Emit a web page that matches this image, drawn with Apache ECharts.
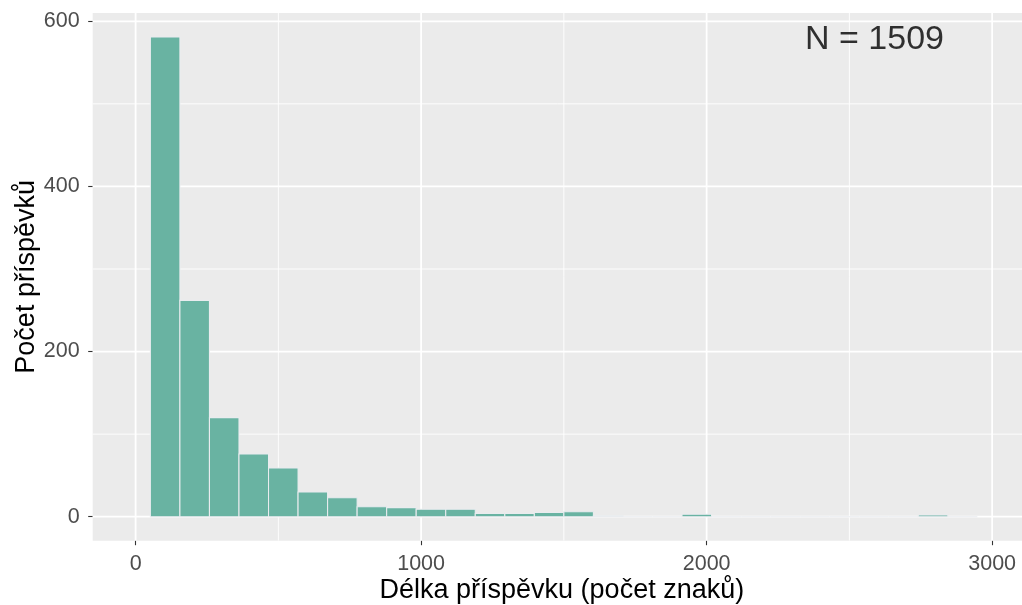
<!DOCTYPE html>
<html>
<head>
<meta charset="utf-8">
<script src="https://cdn.jsdelivr.net/npm/echarts@6/dist/echarts.min.js"></script>
<style>
  html, body { margin: 0; padding: 0; background: #ffffff; }
  #chart { width: 1022px; height: 605px; }
</style>
</head>
<body>
<div id="chart"></div>
<script>
// ---- data ----
const xLimits = [0, 3000];
const binCount = 29;                       // bins spanning the x limits (ggplot bins over limits)
const binWidth = (xLimits[1] - xLimits[0]) / binCount;
// counts of the visible bars, bins centred at 1..28 * binWidth
const counts = [581, 262, 120, 76, 59, 30, 23, 12, 11, 9, 9, 4, 4, 5, 6, 1, 0, 0, 3, 0, 0, 0, 0, 0, 0, 0, 2, 0];
const xTickValues = [0, 1000, 2000, 3000];
const xMinorValues = [500, 1500, 2500];
const yTickValues = [0, 200, 400, 600];
const yMinorValues = [100, 300, 500];
const annotationText = 'N = 1509';
const annotationPos = [2588, 578];
const xTitle = 'Délka příspěvku (počet znaků)';
const yTitle = 'Počet příspěvků';
// visible x extent of the panel (picture is cropped at the right)
const xRange = [-150.3, 3104.6];

// ---- derived ----
const yMaxData = Math.max.apply(null, counts);
const yRange = [-0.05 * yMaxData, yMaxData * 1.05];

const barData = counts.map((c, i) => {
  const center = (i + 1) * binWidth;
  return [center - binWidth / 2, center + binWidth / 2, c];
});

const gridLines = []
  .concat(xMinorValues.map(v => ['x', v, 0.9]))
  .concat(yMinorValues.map(v => ['y', v, 0.9]))
  .concat(xTickValues.map(v => ['x', v, 1.8]))
  .concat(yTickValues.map(v => ['y', v, 1.8]));

const FONT = '"Liberation Sans", Arial, sans-serif';
const chart = echarts.init(document.getElementById('chart'), null, { renderer: 'canvas' });

chart.setOption({
  animation: false,
  backgroundColor: '#ffffff',
  grid: {
    left: 92.7, top: 13, right: 0, height: 527.7,
    show: true, backgroundColor: '#EBEBEB', borderWidth: 0,
    containLabel: false,
    outerBoundsMode: 'none'
  },
  xAxis: {
    type: 'value',
    min: xRange[0], max: xRange[1],
    name: xTitle,
    nameLocation: 'middle',
    nameGap: 36,
    nameMoveOverlap: false,
    nameTextStyle: { fontFamily: FONT, fontSize: 27, color: '#000000', padding: [0, 0, 0, 9] },
    axisLine: { show: false, onZero: false },
    axisTick: { show: true, customValues: xTickValues, length: 4.5, lineStyle: { color: '#333333', width: 1.1 } },
    axisLabel: { show: true, customValues: xTickValues, margin: 12, fontFamily: FONT, fontSize: 21.5, color: '#4D4D4D',
                 formatter: v => String(v) },
    splitLine: { show: false }
  },
  yAxis: {
    type: 'value',
    min: yRange[0], max: yRange[1],
    name: yTitle,
    nameLocation: 'middle',
    nameRotate: 90,
    nameGap: 53,
    nameMoveOverlap: false,
    nameTextStyle: { fontFamily: FONT, fontSize: 27, color: '#000000' },
    axisLine: { show: false, onZero: false },
    axisTick: { show: true, customValues: yTickValues, length: 4.5, lineStyle: { color: '#333333', width: 1.1 } },
    axisLabel: { show: true, customValues: yTickValues, margin: 13, fontFamily: FONT, fontSize: 21.5, color: '#4D4D4D',
                 formatter: v => String(v) },
    splitLine: { show: false }
  },
  series: [
    {
      type: 'custom',
      name: 'grid',
      silent: true,
      z: 1,
      clip: true,
      data: gridLines,
      renderItem: function (params, api) {
        const dir = gridLines[params.dataIndex][0];
        const v = gridLines[params.dataIndex][1];
        const w = gridLines[params.dataIndex][2];
        let p1, p2;
        if (dir === 'x') { p1 = api.coord([v, yRange[0]]); p2 = api.coord([v, yRange[1]]); }
        else { p1 = api.coord([xRange[0], v]); p2 = api.coord([xRange[1], v]); }
        return {
          type: 'line',
          shape: { x1: p1[0], y1: p1[1], x2: p2[0], y2: p2[1] },
          style: { stroke: '#FFFFFF', lineWidth: w }
        };
      }
    },
    {
      type: 'custom',
      name: 'hist',
      z: 2,
      clip: true,
      data: barData,
      encode: { x: [0, 1], y: 2 },
      renderItem: function (params, api) {
        const p0 = api.coord([api.value(0), 0]);
        const p1 = api.coord([api.value(1), api.value(2)]);
        return {
          type: 'rect',
          shape: { x: p0[0], y: p1[1], width: p1[0] - p0[0], height: p0[1] - p1[1] },
          style: { fill: '#69b3a2', stroke: '#e9ecef', lineWidth: 1.07 }
        };
      }
    },
    {
      type: 'scatter',
      name: 'annotation',
      z: 3,
      symbolSize: 0,
      silent: true,
      data: [annotationPos],
      label: {
        show: true, position: 'inside',
        formatter: annotationText,
        fontFamily: FONT, fontSize: 34, color: '#000000', textBorderWidth: 0
      }
    }
  ]
});
</script>
</body>
</html>
